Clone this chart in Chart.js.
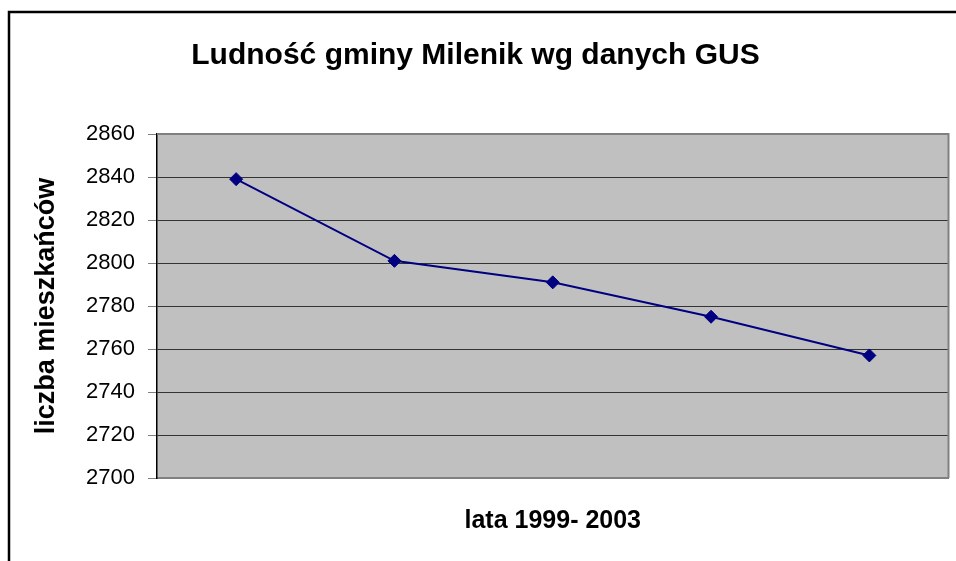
<!DOCTYPE html>
<html>
<head>
<meta charset="utf-8">
<script src="https://cdn.jsdelivr.net/npm/chart.js@4/dist/chart.umd.min.js"></script>
<style>
  html, body { margin: 0; padding: 0; background: #fff; }
  canvas { display: block; }
</style>
</head>
<body>
<canvas id="chart" width="956" height="561"></canvas>
<script>
// population data
const years = ['1999', '2000', '2001', '2002', '2003'];
const population = [2839, 2801, 2791, 2775, 2757];
const yTicks = [2700, 2720, 2740, 2760, 2780, 2800, 2820, 2840, 2860];

const FONT = 'Liberation Sans, Arial, Helvetica, sans-serif';

// grey plot background + outer frame of the chart object
const frame = {
  id: 'frame',
  beforeDraw(chart) {
    const { ctx, chartArea: a } = chart;
    ctx.save();
    ctx.fillStyle = '#fff';
    ctx.fillRect(0, 0, chart.width, chart.height);
    ctx.strokeStyle = '#000';
    ctx.lineWidth = 2.5;
    ctx.strokeRect(9, 12, chart.width + 20, chart.height + 20);
    ctx.fillStyle = '#c0c0c0';
    ctx.fillRect(a.left, a.top, a.right - a.left, a.bottom - a.top);
    ctx.restore();
  },
  afterDatasetsDraw(chart) {
    const { ctx, chartArea: a } = chart;
    ctx.save();
    ctx.strokeStyle = '#808080';
    ctx.lineWidth = 2;
    ctx.beginPath();
    ctx.moveTo(a.left, a.top);
    ctx.lineTo(a.right, a.top);
    ctx.lineTo(a.right, a.bottom);
    ctx.stroke();
    ctx.restore();
  }
};

new Chart(document.getElementById('chart'), {
  type: 'line',
  data: {
    labels: years,
    datasets: [{
      data: population,
      borderColor: '#000080',
      backgroundColor: '#000080',
      borderWidth: 2,
      pointStyle: 'rectRot',
      pointRadius: 6.5,
      pointBorderWidth: 1,
      tension: 0
    }]
  },
  options: {
    responsive: false,
    animation: false,
    layout: { padding: { left: 0, right: 5, top: 0, bottom: 0 } },
    plugins: {
      legend: { display: false },
      tooltip: { enabled: false },
      title: {
        display: true,
        text: 'Ludność gminy Milenik wg danych GUS',
        color: '#000',
        font: { family: FONT, size: 30, weight: 'bold' },
        padding: { top: 38, bottom: 60 }
      }
    },
    scales: {
      x: {
        type: 'category',
        offset: true,
        grid: { display: false, drawTicks: false },
        border: { display: true, color: '#808080', width: 2 },
        ticks: { display: false },
        title: {
          display: true,
          text: 'lata 1999- 2003',
          color: '#000',
          font: { family: FONT, size: 25, weight: 'bold' },
          padding: { top: 0, bottom: 25 }
        },
        afterFit(s) { s.height = 83; }
      },
      y: {
        min: yTicks[0],
        max: yTicks[yTicks.length - 1],
        afterBuildTicks(s) { s.ticks = yTicks.map(v => ({ value: v })); },
        grid: {
          color: '#333',
          lineWidth: 1,
          tickLength: 9,
          tickColor: '#808080',
          drawTicks: true
        },
        border: { display: true, color: '#000', width: 1.5 },
        ticks: {
          color: '#000',
          padding: 13,
          font: { family: FONT, size: 22 },
          callback: v => String(v)
        },
        title: {
          display: true,
          text: 'liczba mieszkańców',
          color: '#000',
          font: { family: FONT, size: 27, weight: 'bold' },
          padding: { top: 30, bottom: 0 }
        },
        afterFit(s) { s.width = 157; }
      }
    }
  },
  plugins: [frame]
});
</script>
</body>
</html>
